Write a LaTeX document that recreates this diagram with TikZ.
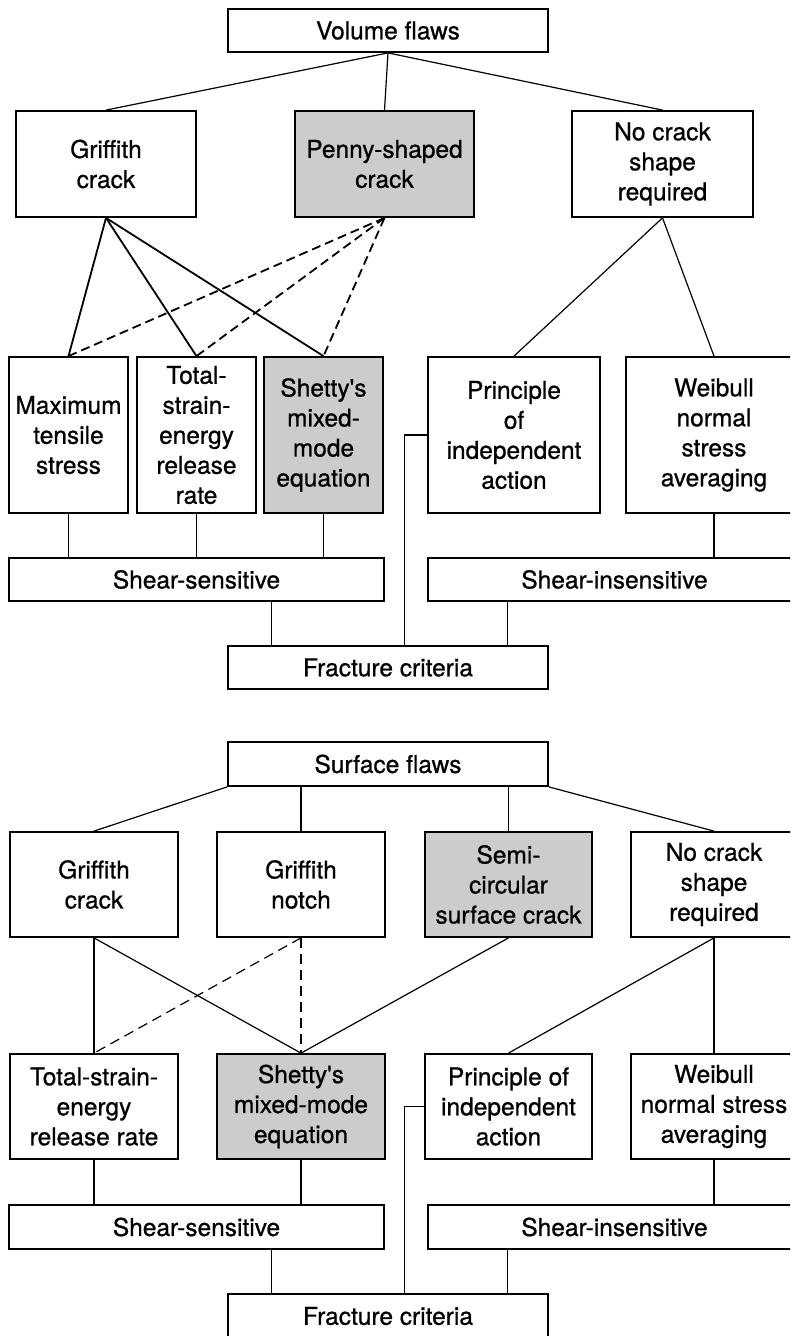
\documentclass[tikz,border=0pt]{standalone}
\usepackage{fontspec}
\setmainfont{TeX Gyre Heros}
\newfontfamily\boxfont{TeX Gyre Heros}[FakeBold=0.8]
\usetikzlibrary{calc}
\definecolor{boxgrey}{RGB}{204,204,204}
\tikzset{
  box/.style={draw=black, line width=1.8pt, fill=white, align=center, inner sep=0pt,
    font=\boxfont\fontsize{24.5}{30}\selectfont},
  shaded/.style={box, fill=boxgrey},
  link/.style={line width=1.2pt},
  boldlink/.style={line width=1.8pt},
  dlink/.style={line width=1.8pt, dash pattern=on 9pt off 5pt},
  thindlink/.style={line width=1.2pt, dash pattern=on 10pt off 6pt}
}
\begin{document}
\begin{tikzpicture}[x=1pt,y=-1pt]
\useasboundingbox (0,0) rectangle (790,1336);
\clip (0,0) rectangle (790,1336);

% ---------- volume flaws ----------
\node[box, minimum width=320, minimum height=43] (vf) at (388,30.5) {Volume flaws};
\node[box, minimum width=180, minimum height=106] (gc1) at (106,164) {Griffith\\crack};
\node[shaded, minimum width=179, minimum height=106] (pen) at (384.5,164) {Penny-shaped\\crack};
\node[box, minimum width=181, minimum height=106] (nc1) at (662.5,164) {No crack\\shape\\required};

\node[box, minimum width=119, minimum height=156] (mts) at (68.5,435) {Maximum\\tensile\\stress};
\node[box, minimum width=119, minimum height=156] (tse1) at (196.5,435) {Total-\\strain-\\energy\\release\\rate};
\node[shaded, minimum width=119, minimum height=156] (sh1) at (323.5,435) {Shetty's\\mixed-\\mode\\equation};
\node[box, minimum width=172, minimum height=156] (pia1) at (514,435) {Principle\\of\\independent\\action};
\node[box, minimum width=176, minimum height=156] (wb1) at (714,435) {Weibull\\normal\\stress\\averaging};

\node[box, minimum width=375, minimum height=43] (ss1) at (196.5,579.5) {Shear-sensitive};
\node[box, minimum width=373, minimum height=43] (si1) at (614.5,579.5) {Shear-insensitive};
\node[box, minimum width=320, minimum height=43] (fc1) at (388,667.5) {Fracture criteria};

\draw[link] (vf.south) -- (gc1.north);
\draw[link] (vf.south) -- (pen.north);
\draw[link] (vf.south) -- (nc1.north);

\draw[boldlink] (gc1.south) -- (mts.north);
\draw[boldlink] (gc1.south) -- (tse1.north);
\draw[boldlink] (gc1.south) -- (sh1.north);
\draw[dlink] (pen.south) -- (mts.north);
\draw[dlink] (pen.south) -- (tse1.north);
\draw[dlink] (pen.south) -- (sh1.north);
\draw[link] (nc1.south) -- (pia1.north);
\draw[link] (nc1.south) -- (wb1.north);

\draw[link] (mts.south) -- (mts.south |- ss1.north);
\draw[link] (tse1.south) -- (tse1.south |- ss1.north);
\draw[link] (sh1.south) -- (sh1.south |- ss1.north);
\draw[link] (wb1.south) -- (wb1.south |- si1.north);

\coordinate (f1a) at ($(fc1.north west)+(44,0)$);
\coordinate (f1b) at ($(fc1.north west)+(280,0)$);
\coordinate (f1p) at ($(fc1.north west)+(177.5,0)$);
\draw[link] (ss1.south -| f1a) -- (f1a);
\draw[link] (si1.south -| f1b) -- (f1b);
\draw[link] (pia1.west) -| (f1p);

% ---------- surface flaws ----------
\node[box, minimum width=320, minimum height=44] (sf) at (388,764) {Surface flaws};
\node[box, minimum width=168, minimum height=105] (gc2) at (94,884.5) {Griffith\\crack};
\node[box, minimum width=168, minimum height=105] (gn) at (301,884.5) {Griffith\\notch};
\node[shaded, minimum width=167, minimum height=105] (sc) at (508.5,884.5) {Semi-\\circular\\surface crack};
\node[box, minimum width=166, minimum height=105] (nc2) at (714,884.5) {No crack\\shape\\required};

\node[box, minimum width=168, minimum height=105] (tse2) at (94,1106.5) {Total-strain-\\energy\\release rate};
\node[shaded, minimum width=168, minimum height=105] (sh2) at (301,1106.5) {Shetty's\\mixed-mode\\equation};
\node[box, minimum width=167, minimum height=105] (pia2) at (508.5,1106.5) {Principle of\\independent\\action};
\node[box, minimum width=166, minimum height=105] (wb2) at (714,1106.5) {Weibull\\normal stress\\averaging};

\node[box, minimum width=375, minimum height=44] (ss2) at (196.5,1227) {Shear-sensitive};
\node[box, minimum width=373, minimum height=44] (si2) at (614.5,1227) {Shear-insensitive};
\node[box, minimum width=320, minimum height=44] (fc2) at (388,1316) {Fracture criteria};

\draw[link] (sf.south west) -- (gc2.north);
\draw[link] (gn.north |- sf.south) -- (gn.north);
\draw[link] (sc.north |- sf.south) -- (sc.north);
\draw[link] (sf.south east) -- (nc2.north);

\draw[link] (gc2.south) -- (tse2.north);
\draw[link] (gc2.south) -- (sh2.north);
\draw[thindlink] (gn.south) -- (tse2.north);
\draw[thindlink] (gn.south) -- (sh2.north);
\draw[link] (sc.south) -- (sh2.north);
\draw[link] (nc2.south) -- (pia2.north);
\draw[link] (nc2.south) -- (wb2.north);

\draw[link] (tse2.south) -- (tse2.south |- ss2.north);
\draw[link] (sh2.south) -- (sh2.south |- ss2.north);
\draw[link] (wb2.south) -- (wb2.south |- si2.north);

\coordinate (f2a) at ($(fc2.north west)+(44,0)$);
\coordinate (f2b) at ($(fc2.north west)+(280,0)$);
\coordinate (f2p) at ($(fc2.north west)+(177.5,0)$);
\draw[link] (ss2.south -| f2a) -- (f2a);
\draw[link] (si2.south -| f2b) -- (f2b);
\draw[link] (pia2.west) -| (f2p);
\end{tikzpicture}
\end{document}
